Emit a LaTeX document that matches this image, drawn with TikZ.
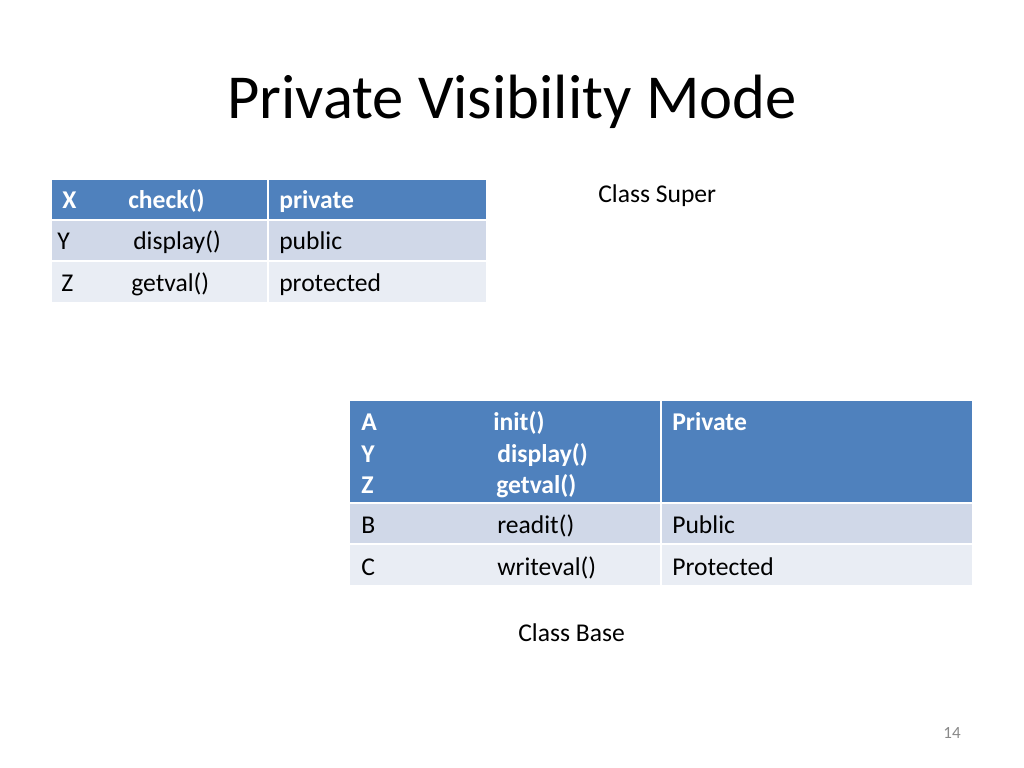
\documentclass[tikz,border=0pt]{standalone}
\usepackage{fontspec}
\setmainfont{Carlito}
\definecolor{hdr}{HTML}{4F81BD}
\definecolor{rowa}{HTML}{D0D8E8}
\definecolor{rowb}{HTML}{E9EDF4}
\definecolor{pgnum}{HTML}{898989}
\begin{document}
\begin{tikzpicture}[x=0.703125pt,y=-0.703125pt,
  txt/.style={anchor=base west,inner sep=0pt,font=\fontsize{18}{21}\selectfont},
  htxt/.style={txt,text=white,font=\fontsize{18}{21}\selectfont\bfseries},
  cellsep/.style={draw=white,line width=1.4pt}]
\useasboundingbox (0,0) rectangle (1024,768);
\fill[white] (0,0) rectangle (1024,768);
% title
\node[anchor=base,inner sep=0pt,font=\fontsize{44}{50}\selectfont] (title) at (512,119) {Private Visibility Mode};
% table 1
\fill[hdr] (52,180) rectangle (486,220);
\fill[rowa] (52,220) rectangle (486,261);
\fill[rowb] (52,261) rectangle (486,302);
\draw[cellsep] (52,220) -- (486,220);
\draw[cellsep] (52,261) -- (486,261);
\draw[cellsep] (268,180) -- (268,302);
\node[htxt] (x) at (62,209) {X};
\node[htxt] (check) at (128,209) {check()};
\node[htxt] (priv) at (279,209) {private};
\node[txt] (y) at (57,250) {Y};
\node[txt] (disp) at (133,250) {display()};
\node[txt] (pub) at (279,250) {public};
\node[txt] (z) at (61,292) {Z};
\node[txt] (getv) at (131,292) {getval()};
\node[txt] (prot) at (279,292) {protected};
\node[txt] (super) at (598,203) {Class Super};
% table 2
\fill[hdr] (350,401) rectangle (972,503);
\fill[rowa] (350,503) rectangle (972,544);
\fill[rowb] (350,544) rectangle (972,585);
\draw[cellsep] (350,503) -- (972,503);
\draw[cellsep] (350,544) -- (972,544);
\draw[cellsep] (661,401) -- (661,585);
\node[htxt] (a) at (361,430) {A};
\node[htxt] (init) at (493,430) {init()};
\node[htxt] (Priv) at (672,430) {Private};
\node[htxt] (y2) at (361,462) {Y};
\node[htxt] (disp2) at (497,462) {display()};
\node[htxt] (z2) at (361,493) {Z};
\node[htxt] (getv2) at (496,493) {getval()};
\node[txt] (b) at (361,533) {B};
\node[txt] (read) at (497,533) {readit()};
\node[txt] (Pub) at (672,533) {Public};
\node[txt] (c) at (361,575) {C};
\node[txt] (write) at (497,575) {writeval()};
\node[txt] (Prot) at (672,575) {Protected};
\node[txt] (base) at (518,641) {Class Base};
% page number
\node[anchor=base east,inner sep=0pt,text=pgnum,font=\fontsize{12}{14}\selectfont] (pg) at (961,738) {14};
\end{tikzpicture}
\end{document}
